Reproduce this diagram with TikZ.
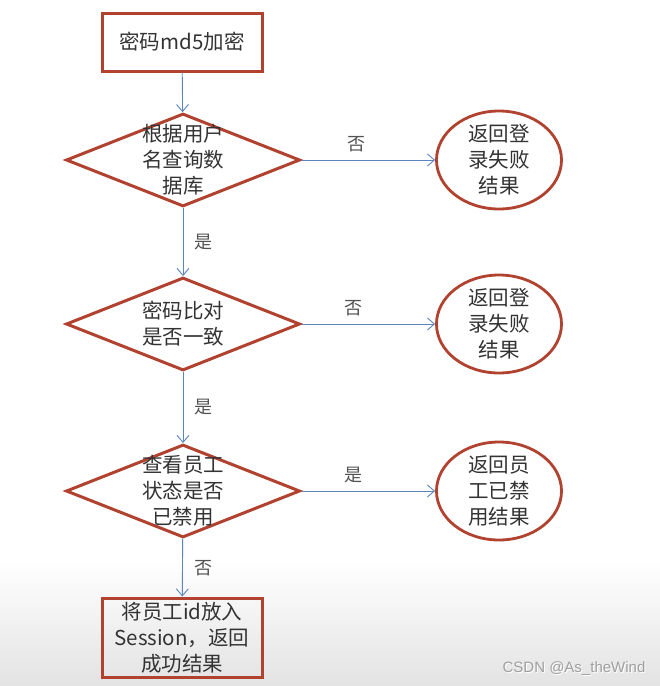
\documentclass[tikz,border=0pt]{standalone}
\usepackage{fontspec}
\setmainfont{Noto Sans CJK SC}
\newfontfamily\wmfont{Liberation Sans}
\usetikzlibrary{shapes.geometric,arrows.meta}
\definecolor{bordr}{HTML}{B0422F}
\definecolor{linkc}{HTML}{5A85C0}
\definecolor{txtc}{HTML}{333333}
\begin{document}
\begin{tikzpicture}[x=1pt,y=-1pt,
  box/.style={draw=bordr,line width=3pt,minimum width=160pt,inner sep=0},
  dia/.style={diamond,draw=bordr,line width=3pt,minimum width=234pt,minimum height=93pt,inner sep=0},
  oval/.style={ellipse,draw=bordr,line width=2.8pt,minimum width=125pt,minimum height=98pt,inner sep=0},
  txt/.style={text=txtc,font=\fontsize{20.5}{26}\selectfont,align=center},
  lbl/.style={text=txtc!85,font=\fontsize{18}{20}\selectfont},
  arr/.style={draw=linkc,line width=0.9pt,-{Straight Barb[length=7pt,width=12pt]}}]
\fill[white] (0,0) rectangle (660,686);
\shade[top color=white,bottom color=gray!22] (0,560) rectangle (660,686);
\useasboundingbox (0,0) rectangle (660,686);

% main column
\node[box,minimum height=58pt,txt] (r1) at (182,42) {密码md5加密};
\node[dia] (d1) at (183,160) {};
\node[txt] (t1) at (d1.center) {根据用户\\名查询数\\据库};
\node[dia] (d2) at (183,324) {};
\node[txt] (t2) at (d2.center) {密码比对\\是否一致};
\node[dia] (d3) at (183,491) {};
\node[txt] (t3) at (d3.center) {查看员工\\状态是否\\已禁用};
\node[box,minimum height=79pt,txt] (r2) at (182,637.5) {将员工id放入\\Session，返回\\成功结果};

% right column
\node[oval] (e1) at (499,160) {};
\node[txt] (u1) at (e1.center) {返回登\\录失败\\结果};
\node[oval] (e2) at (499,324) {};
\node[txt] (u2) at (e2.center) {返回登\\录失败\\结果};
\node[oval] (e3) at (499,491) {};
\node[txt] (u3) at (e3.center) {返回员\\工已禁\\用结果};

% connectors
\draw[arr] (r1) -- (d1);
\draw[arr] (d1) -- node[lbl,right=8pt] {是} (d2);
\draw[arr] (d2) -- node[lbl,right=8pt] {是} (d3);
\draw[arr] (d3) -- node[lbl,right=8pt] {否} (r2);
\draw[arr] (d1.east) -- node[lbl,above=4pt,xshift=-12pt] {否} (e1.west);
\draw[arr] (d2.east) -- node[lbl,above=4pt,xshift=-15pt] {否} (e2.west);
\draw[arr] (d3.east) -- node[lbl,above=4pt,xshift=-15pt] {是} (e3.west);

% watermark
\node[font=\wmfont\fontsize{15}{15}\selectfont,text=white] at (575,670) {CSDN @As\_theWind};
\node[font=\wmfont\fontsize{15}{15}\selectfont,text=gray!75] (wm) at (574,669) {CSDN @As\_theWind};
\end{tikzpicture}
\end{document}
